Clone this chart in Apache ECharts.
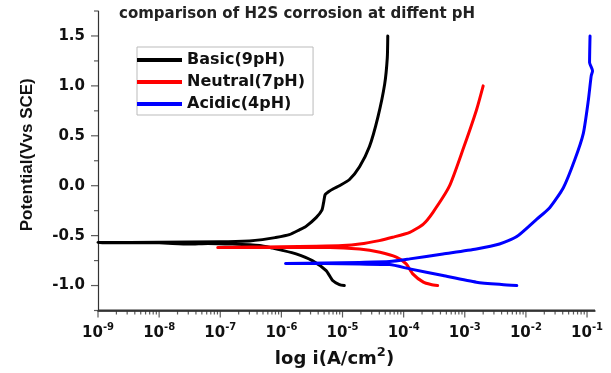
<!DOCTYPE html>
<html><head><meta charset="utf-8">
<script src="https://cdn.jsdelivr.net/npm/echarts@6/dist/echarts.min.js"></script>
<style>html,body{margin:0;padding:0;background:#fff}#c{width:611px;height:373px}</style>
</head><body><div id="c"></div>
<script>
// ---- data (current density A/cm2, potential V vs SCE) ----
const seriesNames = ['Basic(9pH)', 'Neutral(7pH)', 'Acidic(4pH)'];
const basicI = [1.07e-5, 8.9e-6, 6.9e-6, 5.4e-6, 3.2e-6, 1.74e-6, 1.0e-6, 7.2e-7, 4.4e-7, 1.6e-7, 6.3e-8, 3.1e-8, 1e-8, 1e-9,
  1e-8, 1e-7, 3.0e-7, 4.9e-7, 7.9e-7, 1.35e-6, 2.0e-6, 2.5e-6, 3.7e-6, 4.6e-6, 4.9e-6, 5.2e-6, 5.9e-6, 7.1e-6, 8.9e-6, 1.29e-5, 1.9e-5, 2.75e-5, 3.8e-5, 4.9e-5, 5.4e-5, 5.5e-5];
const basicE = [-1.0, -0.99, -0.95, -0.85, -0.75, -0.683, -0.645, -0.625, -0.60, -0.585, -0.578, -0.585, -0.572, -0.57,
  -0.566, -0.562, -0.553, -0.54, -0.52, -0.49, -0.44, -0.41, -0.32, -0.245, -0.17, -0.09, -0.06, -0.03, 0.0, 0.06, 0.19, 0.39, 0.69, 1.02, 1.28, 1.5];
const neutralI = [3.6e-4, 2.8e-4, 2.1e-4, 1.41e-4, 1.1e-4, 7.6e-5, 4.1e-5, 1.9e-5, 6.2e-6, 1e-6, 3.2e-7, 9.1e-8,
  3.2e-7, 1e-6, 3.7e-6, 1e-5, 1.9e-5, 4.0e-5, 6.6e-5, 1.26e-4, 2.1e-4, 3.0e-4, 5.6e-4, 9.3e-4, 1.55e-3, 2.0e-3];
const neutralE = [-1.0, -0.99, -0.966, -0.883, -0.783, -0.716, -0.667, -0.634, -0.618, -0.62, -0.62, -0.62,
  -0.615, -0.612, -0.607, -0.60, -0.585, -0.55, -0.517, -0.467, -0.384, -0.269, -0.005, 0.359, 0.756, 1.0];
const acidicI = [7.1e-3, 4.0e-3, 1.55e-3, 4.4e-4, 1.26e-4, 5.9e-5, 1.9e-5, 5.0e-6, 1.17e-6,
  5.0e-6, 1.9e-5, 5.9e-5, 1.26e-4, 4.4e-4, 1.55e-3, 3.7e-3, 7.1e-3, 1.51e-2, 2.45e-2, 4.1e-2, 6.3e-2, 8.7e-2, 0.105, 0.117, 0.123, 0.110, 0.112];
const acidicE = [-1.0, -0.99, -0.966, -0.90, -0.833, -0.79, -0.785, -0.78, -0.778,
  -0.774, -0.768, -0.76, -0.733, -0.683, -0.633, -0.584, -0.51, -0.335, -0.22, -0.02, 0.26, 0.525, 0.855, 1.10, 1.15, 1.235, 1.5];
const xTickExponents = [-9, -8, -7, -6, -5, -4, -3, -2, -1];
const xMinorMultipliers = [2, 3, 4, 5, 6, 7, 8, 9];
const yMajorTicks = [-1.0, -0.5, 0.0, 0.5, 1.0, 1.5];
const yMinorTicks = [-1.25, -0.75, -0.25, 0.25, 0.75, 1.25, 1.75];
const title = 'comparison of H2S corrosion at diffent pH';
const xName = 'log i(A/cm';
const yName = 'Potential(Vvs SCE)';

const X_MIN = 1e-9, X_MAX = 0.135, Y_MIN = -1.25, Y_MAX = 1.75;
const zip = (a, b) => a.map((v, i) => [v, b[i]]);
const colors = ['#000000', '#ff0000', '#0000ff'];
const dataSets = [zip(basicI, basicE), zip(neutralI, neutralE), zip(acidicI, acidicE)];

const xMajor = xTickExponents.map(e => [Math.pow(10, e), Y_MIN]);
const xMinor = [];
xTickExponents.slice(0, -1).forEach(e => xMinorMultipliers.forEach(m => xMinor.push([m * Math.pow(10, e), Y_MIN])));
const yMaj = yMajorTicks.map(v => [X_MIN, v]);
const yMin = yMinorTicks.map(v => [X_MIN, v]);

const FONT = 'DejaVu Sans';
const AXIS_COLOR = '#333';
const tickSeries = (data, size, offset) => ({
  type: 'scatter', data, symbol: 'rect', symbolSize: size, symbolOffset: offset,
  itemStyle: { color: AXIS_COLOR }, silent: true, clip: false, z: 1, animation: false
});

const chart = echarts.init(document.getElementById('c'), null, { renderer: 'canvas' });
chart.setOption({
  animation: false,
  backgroundColor: '#fff',
  title: {
    text: title, left: 119, top: 7, padding: 0,
    textStyle: { fontFamily: FONT, fontWeight: 'bold', fontSize: 15, color: '#222' }
  },
  legend: {
    data: seriesNames, orient: 'vertical', left: 137, top: 47, icon: 'rect',
    padding: [3, 8, 1, 0], itemGap: 2, itemWidth: 45, itemHeight: 4,
    borderColor: '#bbb', borderWidth: 1, backgroundColor: '#fff',
    textStyle: { fontFamily: FONT, fontWeight: 'bold', fontSize: 16, color: '#111', lineHeight: 20 }
  },
  grid: { left: 98, right: 16, top: 11, bottom: 62 },
  xAxis: {
    type: 'log', logBase: 10, min: X_MIN, max: X_MAX, position: 'bottom',
    axisLine: { show: true, onZero: false, lineStyle: { color: AXIS_COLOR, width: 1.5 } },
    axisTick: { show: false }, splitLine: { show: false },
    axisLabel: {
      margin: 12, showMaxLabel: false,
      formatter: v => {
        const e = Math.log10(v);
        if (Math.abs(e - Math.round(e)) > 1e-6) return '';
        return '{b|10}{s|' + Math.round(e) + '}';
      },
      rich: {
        b: { fontFamily: FONT, fontWeight: 'bold', fontSize: 15, color: '#111' },
        s: { fontFamily: FONT, fontWeight: 'bold', fontSize: 10, color: '#111', padding: [0, 0, 12, 0] }
      }
    },
    name: '{n|' + xName + '}{s|2}{n|)}', nameLocation: 'middle', nameGap: 36,
    nameTextStyle: {
      padding: [0, 24, 0, 0],
      rich: {
        n: { fontFamily: FONT, fontWeight: 'bold', fontSize: 18, color: '#111' },
        s: { fontFamily: FONT, fontWeight: 'bold', fontSize: 13, color: '#111', padding: [0, 0, 12, 0] }
      }
    }
  },
  yAxis: {
    type: 'value', min: Y_MIN, max: Y_MAX, interval: 0.25,
    axisLine: { show: true, onZero: false, lineStyle: { color: AXIS_COLOR, width: 1.2 } },
    axisTick: { show: false }, splitLine: { show: false },
    axisLabel: {
      margin: 13, fontFamily: FONT, fontWeight: 'bold', fontSize: 15, color: '#111',
      formatter: v => (Math.abs(v * 2 - Math.round(v * 2)) < 1e-9 ? v.toFixed(1) : '')
    },
    name: yName, nameLocation: 'middle', nameGap: 62,
    nameTextStyle: { fontFamily: 'Liberation Sans', fontWeight: 'bold', fontSize: 17, color: '#111', padding: [0, 0, 0, 12] }
  },
  series: [
    ...seriesNames.map((n, i) => ({
      name: n, type: 'line', data: dataSets[i], symbol: 'none', smooth: 0.2,
      lineStyle: { color: colors[i], width: 3, cap: 'round', join: 'round' },
      itemStyle: { color: colors[i] }, z: 3
    })),
    {
      type: 'line', data: [[X_MIN, Y_MIN], [X_MAX, Y_MIN]], symbol: 'none', silent: true, clip: false,
      lineStyle: { color: AXIS_COLOR, width: 2 }, z: 2
    },
    tickSeries(xMajor, [1.2, 7], [0, 3.5]),
    tickSeries(xMinor, [1.2, 4], [0, 2]),
    tickSeries(yMaj, [7, 1.2], [-3.5, 0]),
    tickSeries(yMin, [4, 1.2], [-2, 0])
  ]
});
</script></body></html>
